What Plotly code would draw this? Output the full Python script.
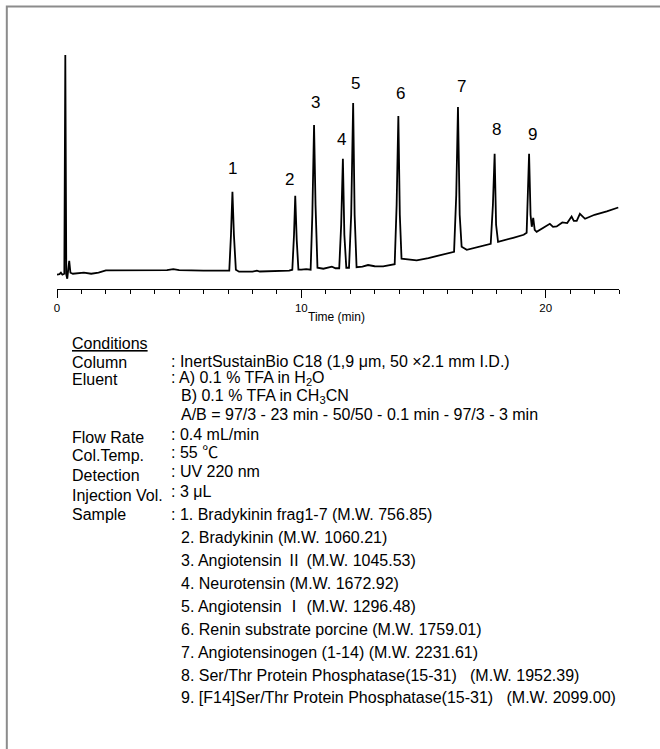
import plotly.graph_objects as go

# ---- data (time in min, signal in arbitrary units) ----
time_min = [0.00, 0.10, 0.16, 0.22, 0.30, 0.34, 0.38, 0.42, 0.50, 0.55, 0.65, 0.90, 1.10, 1.40, 1.70, 2.00,
            3.00, 4.50, 4.76, 5.00, 6.00, 6.90,
            7.05, 7.12, 7.18, 7.24, 7.32, 7.45, 8.00, 8.18, 8.30, 9.50,
            9.63, 9.70, 9.75, 9.81, 9.88, 10.00, 10.20, 10.38,
            10.45, 10.52, 10.58, 10.66, 10.90, 11.25, 11.40, 11.55,
            11.63, 11.70, 11.76, 11.84, 11.95,
            12.04, 12.12, 12.18, 12.26, 12.50, 12.73, 13.00, 13.35, 13.82,
            13.90, 13.97, 14.03, 14.10, 14.72, 15.20, 15.80, 16.25,
            16.34, 16.41, 16.48, 16.56, 16.77, 17.30, 17.75,
            17.84, 17.91, 17.97, 18.05, 18.67, 19.10, 19.22,
            19.27, 19.32, 19.38, 19.43, 19.49, 19.55, 19.63,
            20.17, 20.30, 20.45, 20.68, 20.88, 21.06, 21.15, 21.27, 21.40, 21.61, 22.00, 22.50, 22.97]
signal = [0.0, 0.5, 2.0, 0.0, 1.0, 220.0, 0.0, -4.0, 14.0, 2.0, 1.0, 1.5, 2.0, 1.0, 2.0, 4.3,
          4.5, 4.5, 5.5, 4.5, 4.0, 3.5,
          4.0, 40.0, 83.0, 40.0, 5.0, 3.0, 3.0, 4.0, 3.2, 4.0,
          5.0, 40.0, 79.0, 35.0, 5.0, 5.0, 5.5, 5.0,
          60.0, 150.0, 70.0, 7.0, 6.0, 8.0, 6.5, 6.5,
          50.0, 116.0, 40.0, 7.0, 7.0,
          60.0, 172.0, 60.0, 7.5, 8.0, 9.7, 8.5, 8.3, 10.5,
          70.0, 159.0, 60.0, 16.0, 14.3, 16.7, 20.0, 23.0,
          80.0, 168.0, 60.0, 28.0, 25.0, 28.0, 31.0,
          70.0, 121.0, 50.0, 33.0, 37.0, 40.0, 42.0,
          80.0, 121.0, 60.0, 48.0, 57.0, 45.0, 43.0,
          51.0, 48.0, 48.3, 52.3, 51.7, 58.3, 54.0, 54.0, 61.0, 56.0, 60.0, 63.5, 67.3]

peak_labels = ["1", "2", "3", "4", "5", "6", "7", "8", "9"]
peak_times = [7.18, 9.75, 10.52, 11.70, 12.12, 13.97, 16.41, 17.91, 19.32]

x_ticks = [0, 10, 20]

cond_labels = ["Column", "Eluent", "Flow Rate", "Col.Temp.", "Detection", "Injection Vol.", "Sample"]
cond_values = [
    ": InertSustainBio C18 (1,9 μm, 50 ×2.1 mm I.D.)",
    ": A) 0.1 % TFA in H<sub>2</sub>O",
    ": 0.4 mL/min",
    ": 55 \u2103",
    ": UV 220 nm",
    ": 3 μL",
    ": 1. Bradykinin frag1-7 (M.W. 756.85)",
]
eluent_extra = [
    "B) 0.1 % TFA in CH<sub>3</sub>CN",
    "A/B = 97/3 - 23 min - 50/50 - 0.1 min - 97/3 - 3 min",
]
sample_extra = [
    "2. Bradykinin (M.W. 1060.21)",
    "3. Angiotensin \u2161 (M.W. 1045.53)",
    "4. Neurotensin (M.W. 1672.92)",
    "5. Angiotensin \u2160 (M.W. 1296.48)",
    "6. Renin substrate porcine (M.W. 1759.01)",
    "7. Angiotensinogen (1-14) (M.W. 2231.61)",
    "8. Ser/Thr Protein Phosphatase(15-31) \u00a0\u00a0(M.W. 1952.39)",
    "9. [F14]Ser/Thr Protein Phosphatase(15-31) \u00a0\u00a0(M.W. 2099.00)",
]

# ---- layout geometry (pixels) ----
W, H = 660, 749
L, R_EDGE = 56.7, 618.8
TOP, AXIS_Y = 50.0, 289.3
BASE_PX = 275.0  # pixel row of signal 0
PLOT_W = R_EDGE - L
PLOT_H = AXIS_Y - TOP

FONT = "Arial, 'Liberation Sans', 'Noto Sans CJK JP', sans-serif"


def px_x(px):
    return (px - L) / PLOT_W


def px_y(py):
    return (AXIS_Y - py) / PLOT_H


fig = go.Figure()
fig.add_trace(go.Scatter(x=time_min, y=signal, mode="lines",
                         line=dict(color="black", width=1.8), hoverinfo="skip", showlegend=False))

ann = []
# peak number labels
label_dx = [0, -6, 1, -1, 2, 2, 4, 2, 3]
label_dy = [23, 16, 22, 19, 19, 22, 20, 24, 19]
for lab, t, dx, dy in zip(peak_labels, peak_times, label_dx, label_dy):
    h = signal[time_min.index(t)]
    ann.append(dict(x=t, y=h, xref="x", yref="y", text=lab, showarrow=False,
                    xanchor="center", yanchor="middle", xshift=dx, yshift=dy,
                    font=dict(family=FONT, size=17, color="black")))

# axis title
ann.append(dict(x=px_x(336), y=px_y(317), xref="paper", yref="paper", text="Time (min)",
                showarrow=False, xanchor="center", yanchor="middle",
                font=dict(family=FONT, size=12, color="black")))

TXT = 16
text_items = [(70, 344, "<u>Conditions</u>")]
left_y = [362.5, 380, 438, 456.5, 476, 496.5, 515]
val_y = [361.5, 379, 435, 453, 472.5, 492, 515]
for lab, y in zip(cond_labels, left_y):
    text_items.append((70, y, lab))
for v, y in zip(cond_values, val_y):
    text_items.append((169, y, v))
for v, y in zip(eluent_extra, [397, 415]):
    text_items.append((179, y, v))
sample_y = [538.3, 560.7, 584.5, 607, 630.7, 653.3, 676, 698.3]
for v, y in zip(sample_extra, sample_y):
    text_items.append((179, y, v))

for px, py, txt in text_items:
    ann.append(dict(x=px_x(px), y=px_y(py), xref="paper", yref="paper", text=txt,
                    showarrow=False, xanchor="left", yanchor="middle",
                    font=dict(family=FONT, size=TXT, color="black")))

fig.update_layout(
    width=W, height=H,
    margin=dict(l=L, r=W - R_EDGE, t=TOP, b=H - AXIS_Y, pad=0),
    paper_bgcolor="white", plot_bgcolor="white",
    showlegend=False,
    xaxis=dict(range=[0, 23], showgrid=False, zeroline=False, showline=True, linecolor="black",
               linewidth=1, ticks="outside", ticklen=8, tickwidth=1, tickcolor="black",
               tickvals=x_ticks, ticktext=[str(v) for v in x_ticks],
               tickfont=dict(family=FONT, size=11.5, color="black"),
               minor=dict(dtick=1, tick0=0, ticks="outside", ticklen=4, tickwidth=1, tickcolor="black",
                          showgrid=False)),
    yaxis=dict(range=[BASE_PX - AXIS_Y, BASE_PX - TOP], visible=False, showgrid=False, zeroline=False),
    annotations=ann,
    shapes=[dict(type="rect", xref="paper", yref="paper",
                 x0=px_x(6.5), x1=px_x(W + 10), y0=px_y(H + 10), y1=px_y(6.5),
                 line=dict(color="#8c8c8c", width=2), fillcolor="rgba(0,0,0,0)", layer="below")],
)

fig.write_html("out.html", config={"displayModeBar": False},
               post_script="document.body.style.margin='0';document.body.style.overflow='hidden';")
